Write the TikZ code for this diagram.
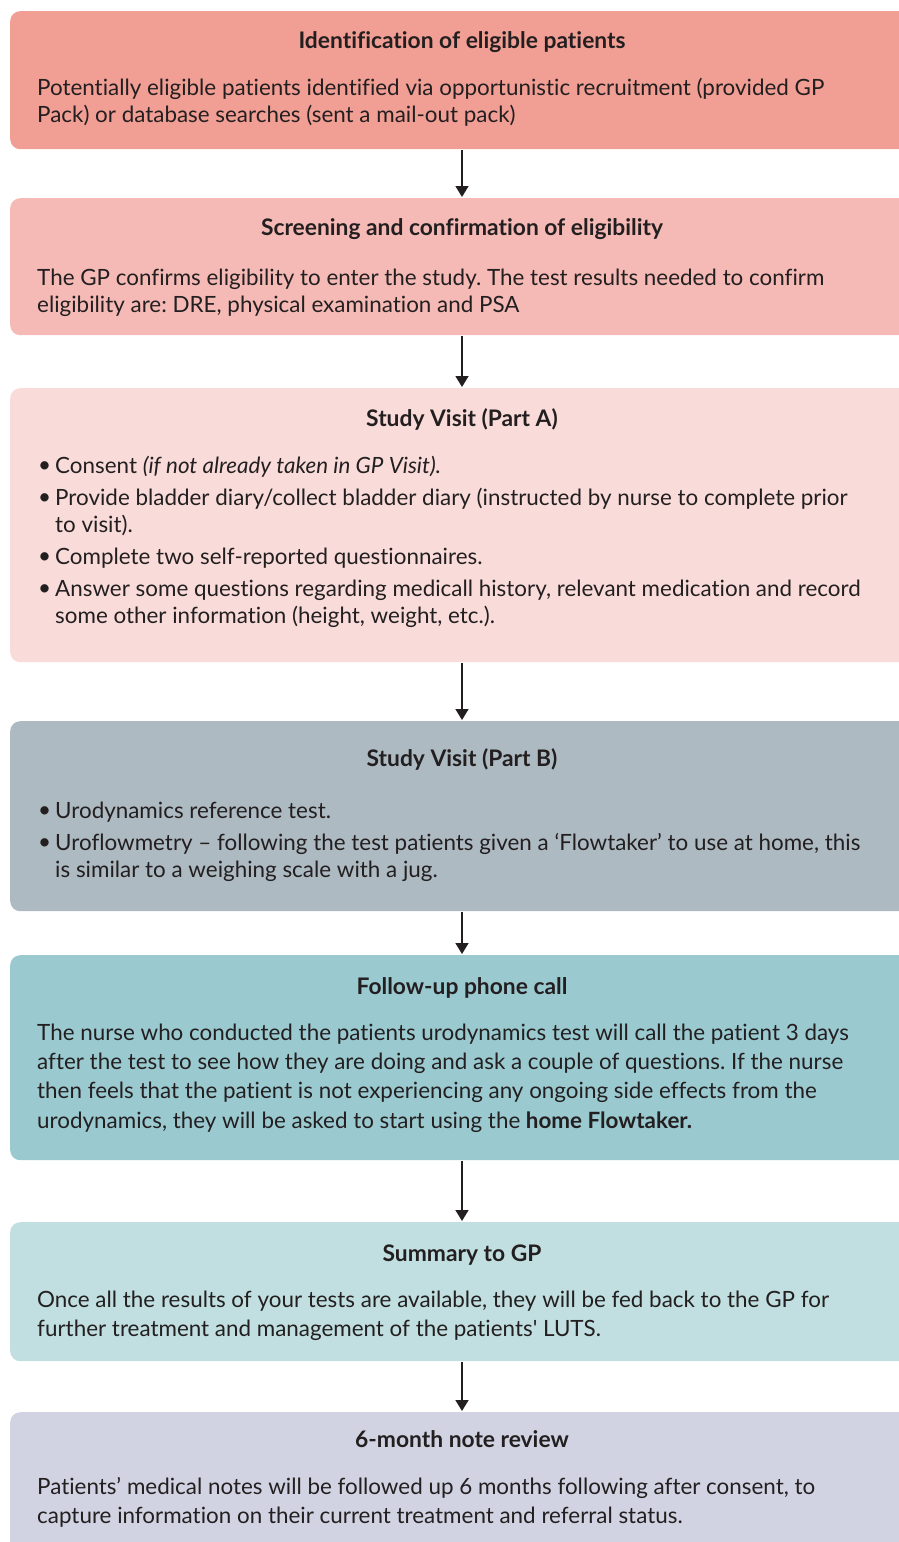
\documentclass[tikz,border=0pt]{standalone}
\usepackage{fontspec}
\setmainfont{Lato}[Ligatures={NoCommon,TeX}]
\usetikzlibrary{arrows.meta}
\frenchspacing
\definecolor{txt}{HTML}{231F20}
\definecolor{cA}{HTML}{F19E94}
\definecolor{cB}{HTML}{F5BAB5}
\definecolor{cC}{HTML}{F9DCDA}
\definecolor{cD}{HTML}{ADBAC1}
\definecolor{cE}{HTML}{9ACAD0}
\definecolor{cF}{HTML}{C1DFE0}
\definecolor{cG}{HTML}{D1D3E2}
\newcommand{\bul}{\makebox[17pt][l]{\raisebox{0.5pt}{\textbullet}}}
\newcommand{\ind}{\hspace*{17pt}}
\tikzset{
  box/.style={rectangle, rounded corners=10pt, draw=none, minimum width=905pt, anchor=north west, inner sep=0pt},
  ttl/.style={anchor=base, text=txt, font={\fontsize{22.8}{27}\selectfont\bfseries}, inner sep=0pt},
  body/.style={anchor=base west, text=txt, align=left, font={\fontsize{22.4}{27}\selectfont}, inner sep=0pt},
  conn/.style={draw=txt, line width=1.6pt, -{Triangle[length=11pt,width=13pt]}, shorten <=1pt, shorten >=1pt}
}
\begin{document}
\begin{tikzpicture}[x=1pt,y=-1pt]
\useasboundingbox (0,0) rectangle (899,1542);
\clip (0,0) rectangle (899,1542);
\node[box, fill=cA, minimum height=138pt] (b1) at (10,11) {};
\node[box, fill=cB, minimum height=137pt] (b2) at (10,198) {};
\node[box, fill=cC, minimum height=274pt] (b3) at (10,388) {};
\node[box, fill=cD, minimum height=190pt] (b4) at (10,721) {};
\node[box, fill=cE, minimum height=205pt] (b5) at (10,955) {};
\node[box, fill=cF, minimum height=139pt] (b6) at (10,1222) {};
\node[box, fill=cG, minimum height=140pt] (b7) at (10,1412) {};

% body nodes are anchored at the baseline of their last line
\node[ttl] (t1) at (462,48) {Identification of eligible patients};
\node[body] (x1) at (37,122) {Potentially eligible patients identified via opportunistic recruitment (provided GP\\Pack) or database searches (sent a mail-out pack)};

\node[ttl] (t2) at (462,235) {Screening and confirmation of eligibility};
\node[body] (x2) at (37,312) {The GP confirms eligibility to enter the study. The test results needed to confirm\\eligibility are: DRE, physical examination and PSA};

\node[ttl] (t3) at (462,426) {Study Visit (Part A)};
\node[body] (x3) at (38,623) {\bul Consent \textit{(if not already taken in GP Visit).}\\[5pt]
\bul Provide bladder diary/collect bladder diary (instructed by nurse to complete prior\\
\ind to visit).\\[5pt]
\bul Complete two self-reported questionnaires.\\[5pt]
\bul Answer some questions regarding medicall history, relevant medication and record\\
\ind some other information (height, weight, etc.).};

\node[ttl] (t4) at (462,766) {Study Visit (Part B)};
\node[body] (x4) at (38,877) {\bul Urodynamics reference test.\\[5pt]
\bul Uroflowmetry -- following the test patients given a `Flowtaker' to use at home, this\\
\ind is similar to a weighing scale with a jug.};

\node[ttl] (t5) at (462,994) {Follow-up phone call};
\node[body, font={\fontsize{22.4}{29.3}\selectfont}] (x5) at (37,1128) {The nurse who conducted the patients urodynamics test will call the patient 3 days\\
after the test to see how they are doing and ask a couple of questions. If the nurse\\
then feels that the patient is not experiencing any ongoing side effects from the\\
urodynamics, they will be asked to start using the \textbf{home Flowtaker.}};

\node[ttl] (t6) at (462,1261) {Summary to GP};
\node[body, font={\fontsize{22.4}{29}\selectfont}] (x6) at (37,1336) {Once all the results of your tests are available, they will be fed back to the GP for\\
further treatment and management of the patients\textquotesingle{} LUTS.};

\node[ttl] (t7) at (462,1447) {6-month note review};
\node[body, font={\fontsize{22.4}{29}\selectfont}] (x7) at (37,1523) {Patients' medical notes will be followed up 6 months following after consent, to\\
capture information on their current treatment and referral status.};

\draw[conn] (b1.south -| 462,0) -- (b2.north -| 462,0);
\draw[conn] (b2.south -| 462,0) -- (b3.north -| 462,0);
\draw[conn] (b3.south -| 462,0) -- (b4.north -| 462,0);
\draw[conn] (b4.south -| 462,0) -- (b5.north -| 462,0);
\draw[conn] (b5.south -| 462,0) -- (b6.north -| 462,0);
\draw[conn] (b6.south -| 462,0) -- (b7.north -| 462,0);
\end{tikzpicture}
\end{document}
